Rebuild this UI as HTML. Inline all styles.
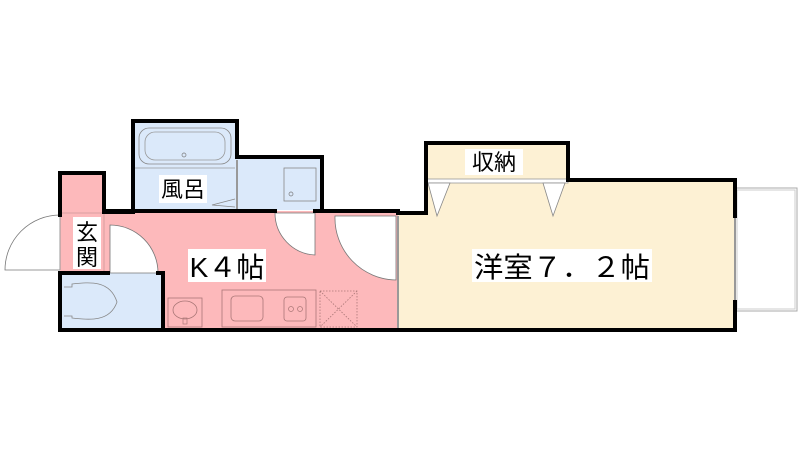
<!DOCTYPE html>
<html><head><meta charset="utf-8"><style>
html,body{margin:0;padding:0;background:#fff;}
svg{display:block;}
text{font-family:"Liberation Sans","Noto Sans CJK JP",sans-serif;}
</style></head><body>
<svg width="800" height="450" viewBox="0 0 800 450" xmlns="http://www.w3.org/2000/svg">
<!-- fills -->
<rect x="60" y="173" width="46" height="100" fill="#fdb9bb"/>
<rect x="104" y="211" width="296" height="119" fill="#fdb9bb"/>
<rect x="133" y="121" width="104" height="89" fill="#dbe9fa"/>
<rect x="237" y="157" width="85" height="53" fill="#dbe9fa"/>
<rect x="60" y="273" width="103" height="57" fill="#dbe9fa"/>
<rect x="426" y="143" width="142" height="38" fill="#fdf1d4"/>
<rect x="426" y="180" width="309" height="150" fill="#fdf1d4"/>
<rect x="398" y="213" width="30" height="117" fill="#fdf1d4"/>
<!-- balcony -->
<rect x="735" y="188" width="62" height="123" fill="#fff" stroke="#aaa" stroke-width="1"/>
<rect x="737" y="190" width="58" height="119" fill="none" stroke="#ccc" stroke-width="1"/>
<!-- doors -->
<path d="M60 270 L5 270 A55 55 0 0 1 60 215" fill="#fff" stroke="#777" stroke-width="0.8"/>
<path d="M110 273 L110 225 A48 48 0 0 1 158 273 Z" fill="#fff" stroke="#777" stroke-width="0.8"/>
<path d="M275 213 L315 213 L315 255 A42 42 0 0 1 275 213 Z" fill="#fff" stroke="#777" stroke-width="0.8"/>
<path d="M335 216 L396 216 L396 280 A62 62 0 0 1 335 216 Z" fill="#fff" stroke="#777" stroke-width="0.8"/>
<!-- closet doors -->
<rect x="426" y="179" width="142" height="4" fill="#fff" stroke="#999" stroke-width="0.8"/>
<path d="M428 183 L450 183 L437 216 Z" fill="#fff" stroke="#888" stroke-width="0.8"/>
<path d="M543 183 L565 183 L553 216 Z" fill="#fff" stroke="#888" stroke-width="0.8"/>
<!-- bath fixtures -->
<rect x="139" y="128" width="92" height="36" rx="10" fill="none" stroke="#888" stroke-width="0.8"/>
<rect x="145" y="132" width="80" height="28" rx="10" fill="none" stroke="#999" stroke-width="0.8"/>
<circle cx="184" cy="155" r="2" fill="none" stroke="#777" stroke-width="0.7"/>
<line x1="135" y1="168" x2="235" y2="168" stroke="#999" stroke-width="0.8"/>
<path d="M235 199 L212 205 L235 207" fill="none" stroke="#888" stroke-width="0.8"/>
<rect x="284" y="168" width="32" height="33" fill="none" stroke="#888" stroke-width="0.8"/>
<circle cx="291" cy="194" r="2" fill="none" stroke="#777" stroke-width="0.7"/>
<line x1="237" y1="160" x2="237" y2="210" stroke="#999" stroke-width="2"/>
<!-- toilet -->
<path d="M64 287 L72 287 L72 284 C90 282 110 280 117 302 C110 322 90 320 72 318 L72 316 L64 316" fill="none" stroke="#888" stroke-width="0.8"/>
<!-- kitchen -->
<rect x="168" y="298" width="34" height="29" fill="none" stroke="#a77" stroke-width="0.8"/>
<ellipse cx="185" cy="310" rx="12" ry="9" fill="none" stroke="#a77" stroke-width="0.8"/>
<rect x="183" y="318" width="4" height="6" fill="none" stroke="#a77" stroke-width="0.7"/>
<rect x="222" y="290" width="94" height="37" fill="none" stroke="#a77" stroke-width="0.8"/>
<rect x="231" y="296" width="32" height="25" rx="4" fill="none" stroke="#a77" stroke-width="0.8"/>
<rect x="284" y="297" width="22" height="24" rx="3" fill="none" stroke="#a77" stroke-width="0.8"/>
<circle cx="291" cy="309" r="2.5" fill="none" stroke="#a77" stroke-width="0.7"/>
<circle cx="300" cy="309" r="2.5" fill="none" stroke="#a77" stroke-width="0.7"/>
<rect x="320" y="291" width="37" height="36" fill="none" stroke="#a77" stroke-width="0.8" stroke-dasharray="1.5 1.5"/>
<path d="M320 291 L357 327 M357 291 L320 327" stroke="#a77" stroke-width="0.8" stroke-dasharray="1.5 1.5"/>
<!-- thin inner lines -->
<line x1="62" y1="213" x2="104" y2="213" stroke="#c99" stroke-width="0.8"/>
<line x1="104" y1="213" x2="104" y2="272" stroke="#c99" stroke-width="0.8"/>
<line x1="60" y1="215" x2="60" y2="270" stroke="#999" stroke-width="1"/>
<line x1="398" y1="216" x2="398" y2="328" stroke="#999" stroke-width="2"/>
<line x1="735" y1="216" x2="735" y2="302" stroke="#999" stroke-width="2"/>
<!-- walls -->
<g fill="none" stroke="#000" stroke-width="4" stroke-linecap="square">
<path d="M60 215 L60 173 L104 173 L104 212 L133 212 L133 121 L237 121 L237 157 L322 157 L322 211 L398 211 L398 213 L426 213 L426 143 L568 143 L568 180 L735 180 L735 216"/>
<path d="M735 302 L735 330 L60 330 L60 273 L108 273"/>
<path d="M158 273 L163 273 L163 330"/>
<line x1="104" y1="211" x2="275" y2="211"/>
<line x1="315" y1="211" x2="335" y2="211"/>
</g>
<!-- labels -->
<rect x="159" y="175" width="48" height="28" fill="#fff"/>
<text x="183" y="197" font-size="22" text-anchor="middle">風呂</text>
<rect x="73" y="217" width="28" height="52" fill="#fff"/>
<text x="87" y="240" font-size="22" text-anchor="middle">玄</text>
<text x="87" y="265" font-size="22" text-anchor="middle">関</text>
<rect x="188" y="249" width="78" height="33" fill="#fff"/>
<text x="227" y="277" font-size="28" text-anchor="middle">K４帖</text>
<rect x="465" y="149" width="58" height="26" fill="#fff"/>
<text x="494" y="170" font-size="22" text-anchor="middle">収納</text>
<rect x="472" y="249" width="180" height="33" fill="#fff"/>
<text x="562" y="277" font-size="28" text-anchor="middle" textLength="176" lengthAdjust="spacingAndGlyphs">洋室７．２帖</text>
</svg>
</body></html>
